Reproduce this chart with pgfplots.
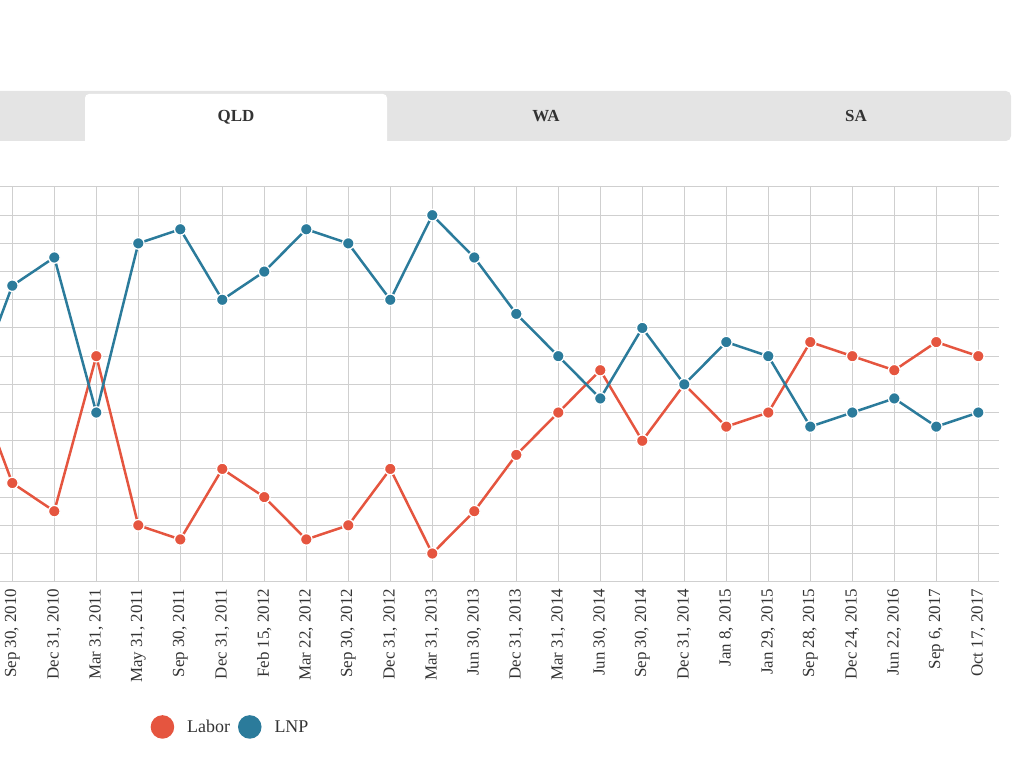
\documentclass[border=0pt]{standalone}
\usepackage{pgfplots}
\pgfplotsset{compat=1.18}
\usepackage{fontspec}
\setmainfont{Liberation Serif}
\definecolor{labor}{HTML}{E5553F}
\definecolor{lnp}{HTML}{2B7B9B}
\definecolor{tabgrey}{HTML}{E4E4E4}
\definecolor{gridgrey}{HTML}{CFCFCF}
\definecolor{txt}{HTML}{333333}
\begin{document}
\begin{tikzpicture}
\useasboundingbox (0bp,0bp) rectangle (1024bp,768bp);
% tab bar
\fill[tabgrey, rounded corners=5bp] (-20bp,627bp) rectangle (1011bp,677bp);
\fill[white, rounded corners=4bp] (85bp,610bp) -- (85bp,674bp) -- (387bp,674bp) -- (387bp,610bp) -- cycle;
\node[font=\fontsize{17}{19}\selectfont\bfseries, text=txt, anchor=base] at (236bp,646bp) {QLD};
\node[font=\fontsize{17}{19}\selectfont\bfseries, text=txt, anchor=base] at (546bp,646bp) {WA};
\node[font=\fontsize{17}{19}\selectfont\bfseries, text=txt, anchor=base] at (856bp,646bp) {SA};
\begin{axis}[
  at={(0bp,186.3bp)}, anchor=south west,
  scale only axis, width=999.3bp, height=394.7bp,
  xmin=-0.293, xmax=23.5, ymin=36, ymax=64,
  axis line style={draw=none},
  tick style={draw=none},
  xtick={0,...,23}, ytick={36,38,...,64},
  grid=major, major grid style={gridgrey, line width=1bp},
  yticklabel={\mbox{}},
  xticklabels={{Sep 30, 2010},{Dec 31, 2010},{Mar 31, 2011},{May 31, 2011},{Sep 30, 2011},{Dec 31, 2011},{Feb 15, 2012},{Mar 22, 2012},{Sep 30, 2012},{Dec 31, 2012},{Mar 31, 2013},{Jun 30, 2013},{Dec 31, 2013},{Mar 31, 2014},{Jun 30, 2014},{Sep 30, 2014},{Dec 31, 2014},{Jan 8, 2015},{Jan 29, 2015},{Sep 28, 2015},{Dec 24, 2015},{Jun 22, 2016},{Sep 6, 2017},{Oct 17, 2017}},
  xticklabel style={rotate=90, anchor=east, font=\fontsize{17}{19}\selectfont, text=txt, inner sep=0bp, xshift=-7bp},
  legend style={at={(0.1506,-0.368)}, anchor=west, draw=none, fill=none,
    font=\fontsize{18}{20}\selectfont, text=txt, inner sep=0pt,
    /tikz/every odd column/.append style={column sep=11bp},
    /tikz/every even column/.append style={column sep=6bp},
    nodes={inner sep=2bp}},
  legend columns=-1,
  legend image code/.code={\fill[#1] (10.5bp,0bp) circle (10.5bp);},
  every axis plot/.append style={line width=2.5bp, mark=*, mark size=5.8bp},
]
\addplot[color=labor, mark options={draw=white, fill=labor, line width=1.3bp}] coordinates {
(-1,51) (0,43) (1,41) (2,52) (3,40) (4,39) (5,44) (6,42) (7,39) (8,40) (9,44) (10,38) (11,41) (12,45) (13,48) (14,51) (15,46) (16,50) (17,47) (18,48) (19,53) (20,52) (21,51) (22,53) (23,52)};
\addlegendentry{Labor}
\addplot[color=lnp, mark options={draw=white, fill=lnp, line width=1.3bp}] coordinates {
(-1,49) (0,57) (1,59) (2,48) (3,60) (4,61) (5,56) (6,58) (7,61) (8,60) (9,56) (10,62) (11,59) (12,55) (13,52) (14,49) (15,54) (16,50) (17,53) (18,52) (19,47) (20,48) (21,49) (22,47) (23,48)};
\addlegendentry{LNP}
\end{axis}
\end{tikzpicture}
\end{document}
